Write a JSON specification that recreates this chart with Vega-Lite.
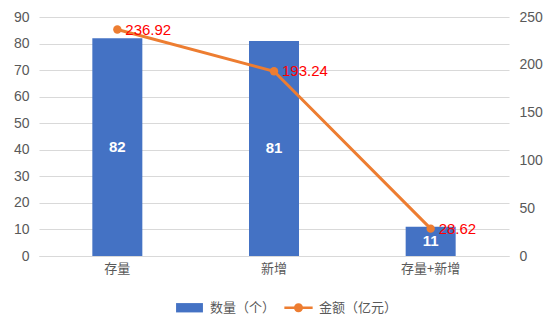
{
  "$schema": "https://vega.github.io/schema/vega-lite/v6.json",
  "width": 470,
  "height": 239,
  "autosize": {"type": "none"},
  "padding": {"left": 39, "top": 17, "right": 46, "bottom": 68},
  "background": "white",
  "data": {"values": [
    {"category": "存量", "count": 82, "amount": 236.92, "s1": "数量（个）", "s2": "金额（亿元）"},
    {"category": "新增", "count": 81, "amount": 193.24, "s1": "数量（个）", "s2": "金额（亿元）"},
    {"category": "存量+新增", "count": 11, "amount": 28.62, "s1": "数量（个）", "s2": "金额（亿元）"}
  ]},
  "transform": [{"calculate": "datum.count / 2", "as": "mid"}],
  "encoding": {
    "x": {"field": "category", "type": "nominal", "sort": null, "title": null,
      "scale": {"paddingInner": 0, "paddingOuter": 0},
      "axis": {"labelAngle": 0, "ticks": false, "domainColor": "#D9D9D9", "labelColor": "#595959", "labelFontSize": 13, "labelFont": "Noto Sans CJK SC", "labelPadding": 6}}
  },
  "layer": [
    {
      "layer": [
        {
          "mark": {"type": "bar", "size": 50, "color": "#4472C4"},
          "encoding": {
            "y": {"field": "count", "type": "quantitative", "title": null,
              "scale": {"domain": [0, 90]},
              "axis": {"values": [0,10,20,30,40,50,60,70,80,90], "domain": false, "ticks": false, "gridColor": "#D9D9D9", "labelColor": "#595959", "labelFontSize": 14, "labelFont": "Liberation Sans", "labelPadding": 10}},
            "color": {"field": "s1", "type": "nominal",
              "scale": {"domain": ["数量（个）", "金额（亿元）"], "range": ["#4472C4", "#ED7D31"]},
              "legend": {
                "title": null, "orient": "none", "legendX": 136, "legendY": 276, "direction": "horizontal",
                "labelFont": "Noto Sans CJK SC", "labelFontSize": 13, "labelColor": "#595959",
                "symbolSize": 800, "columnPadding": 8, "labelOffset": 6,
                "encode": {"symbols": {"update": {
                  "shape": {"signal": "datum.value === '数量（个）' ? 'M-0.95,-0.33L0.95,-0.33L0.95,0.33L-0.95,0.33Z' : 'M-1,-0.08L1,-0.08L1,0.08L-1,0.08Z M0.32,0 A0.32,0.32 0 1,1 -0.32,0 A0.32,0.32 0 1,1 0.32,0 Z'"},
                  "fill": {"signal": "datum.value === '数量（个）' ? '#4472C4' : '#ED7D31'"},
                  "fillOpacity": {"value": 1},
                  "strokeWidth": {"value": 0}
                }}}
              }}
          }
        },
        {
          "mark": {"type": "text", "color": "white", "fontSize": 15, "fontWeight": "bold", "font": "Liberation Sans"},
          "encoding": {
            "y": {"field": "mid", "type": "quantitative", "title": null, "scale": {"domain": [0, 90]},
              "axis": {"values": [0,10,20,30,40,50,60,70,80,90], "domain": false, "ticks": false, "gridColor": "#D9D9D9", "labelColor": "#595959", "labelFontSize": 14, "labelFont": "Liberation Sans", "labelPadding": 10}},
            "text": {"field": "count", "type": "quantitative"}
          }
        }
      ]
    },
    {
      "layer": [
        {
          "mark": {"type": "line", "color": "#ED7D31", "strokeWidth": 3, "point": {"filled": true, "size": 70, "color": "#ED7D31"}},
          "encoding": {
            "y": {"field": "amount", "type": "quantitative", "title": null,
              "scale": {"domain": [0, 250]},
              "axis": {"orient": "right", "values": [0,50,100,150,200,250], "domain": false, "ticks": false, "grid": false, "labelColor": "#595959", "labelFontSize": 14, "labelFont": "Liberation Sans", "labelPadding": 10}},
            "color": {"field": "s2", "type": "nominal"}
          }
        },
        {
          "mark": {"type": "text", "color": "#FF0000", "fontSize": 15, "font": "Liberation Sans", "align": "left", "baseline": "middle", "dx": 8},
          "encoding": {
            "y": {"field": "amount", "type": "quantitative", "title": null, "scale": {"domain": [0, 250]},
              "axis": {"orient": "right", "values": [0,50,100,150,200,250], "domain": false, "ticks": false, "grid": false, "labelColor": "#595959", "labelFontSize": 14, "labelFont": "Liberation Sans", "labelPadding": 10}},
            "text": {"field": "amount", "type": "quantitative", "format": ".2f"}
          }
        }
      ]
    }
  ],
  "resolve": {"scale": {"y": "independent"}},
  "config": {"view": {"stroke": null}}
}
